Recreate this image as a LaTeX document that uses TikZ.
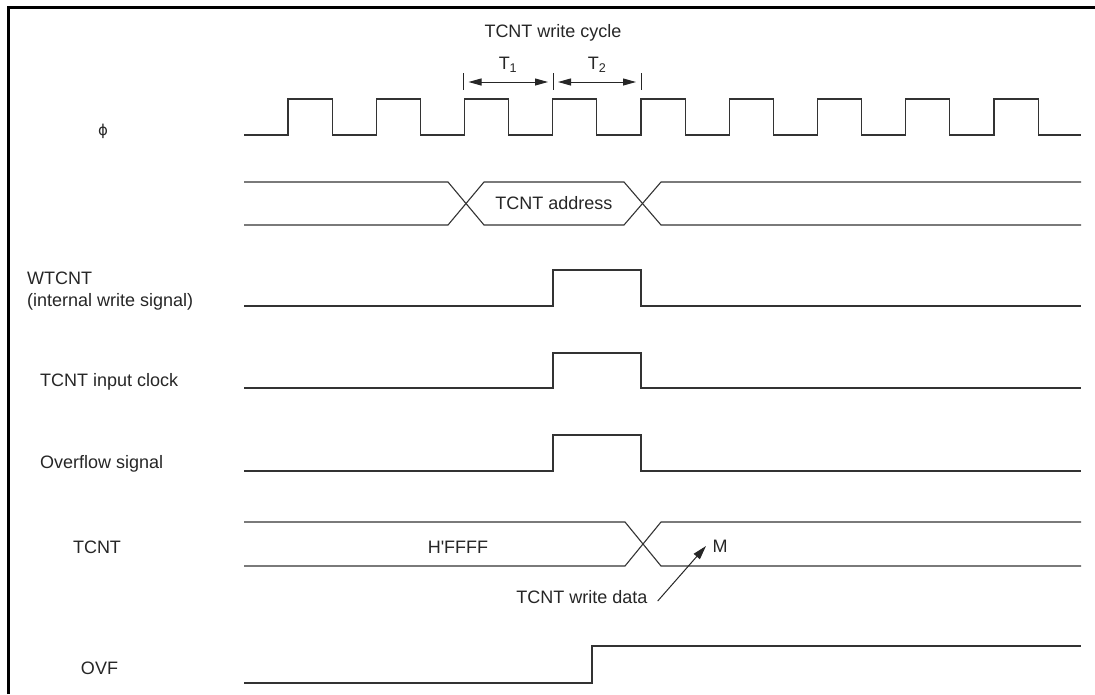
\documentclass[tikz,border=0pt]{standalone}
\usepackage{fontspec}
\setmainfont{Liberation Sans}
\newfontfamily\dejavu{DejaVu Sans}
\usetikzlibrary{arrows.meta}
\begin{document}
\begin{tikzpicture}[x=1pt,y=-1pt,
  sig/.style={line width=1.1pt, draw=black!80},
  lbl/.style={font=\fontsize{18}{22}\selectfont, inner sep=0pt, text=black!85},
  dimarr/.style={line width=1pt, draw=black!85, {Triangle[length=13pt,width=7pt]}-{Triangle[length=13pt,width=7pt]}},
  ptr/.style={line width=1pt, draw=black!85, -{Triangle[length=14pt,width=8pt]}}]
\useasboundingbox (0,0) rectangle (1095,694);
% frame (left and top)
\draw[line width=3pt] (8,694) -- (8,7.5) -- (1095,7.5);

% labels
\node[lbl, font=\dejavu\fontsize{15}{18}\selectfont] (lphi) at (103,131) {ϕ};
\node[lbl, anchor=west] (lwt) at (27,278) {WTCNT};
\node[lbl, anchor=west] (lwt2) at (27,302) {(internal write signal)};
\node[lbl, anchor=west] (lclk) at (40,382) {TCNT input clock};
\node[lbl, anchor=west] (lovs) at (40,464) {Overflow signal};
\node[lbl] (ltcnt) at (97,547) {TCNT};
\node[lbl] (lovf) at (99.5,668) {OVF};

% top annotation
\node[lbl] (cyc) at (553,33) {TCNT write cycle};
\node[lbl] (t1) at (508,65) {T\textsubscript{1}};
\node[lbl] (t2) at (597,65) {T\textsubscript{2}};
\coordinate (k1) at (463.5,82);
\coordinate (k2) at (553,82);
\coordinate (k3) at (641,82);
\draw[line width=1pt, draw=black!85] (463.5,73) -- (463.5,90) (553,73) -- (553,90) (641,73) -- (641,90);
\draw[dimarr, shorten <=5pt, shorten >=5pt] (k1) -- (k2);
\draw[dimarr, shorten <=5pt, shorten >=5pt] (k2) -- (k3);

% phi clock
\draw[sig] (244,135) \foreach \k in {0,...,8} {
  -- ({288+88.25*\k},135) -- ({288+88.25*\k},99) -- ({332.1+88.25*\k},99) -- ({332.1+88.25*\k},135)} -- (1081,135);

% address bus
\draw[sig] (244,182) -- (448,182) -- (484,225) -- (624,225) -- (661,182) -- (1081,182);
\draw[sig] (244,225) -- (448,225) -- (484,182) -- (624,182) -- (661,225) -- (1081,225);
\node[lbl] (addr) at (554,203.5) {TCNT address};

% WTCNT
\draw[sig] (244,306) -- (553,306) -- (553,270) -- (641,270) -- (641,306) -- (1081,306);
% TCNT input clock
\draw[sig] (244,388) -- (553,388) -- (553,353) -- (641,353) -- (641,388) -- (1081,388);
% Overflow signal
\draw[sig] (244,471) -- (553,471) -- (553,435) -- (641,435) -- (641,471) -- (1081,471);

% TCNT bus
\draw[sig] (244,522) -- (625,522) -- (661,566) -- (1081,566);
\draw[sig] (244,566) -- (625,566) -- (661,522) -- (1081,522);
\node[lbl] (hffff) at (458,547) {H\textquotesingle FFFF};
\node[lbl] (m) at (720,546) {M};
\node[lbl] (wd) at (582,597) {TCNT write data};
\coordinate (mtip) at (706,546);
\draw[ptr] ([xshift=10pt,yshift=-4pt]wd.east) -- (mtip);

% OVF
\draw[sig] (244,683) -- (592,683) -- (592,646) -- (1081,646);
\end{tikzpicture}
\end{document}
